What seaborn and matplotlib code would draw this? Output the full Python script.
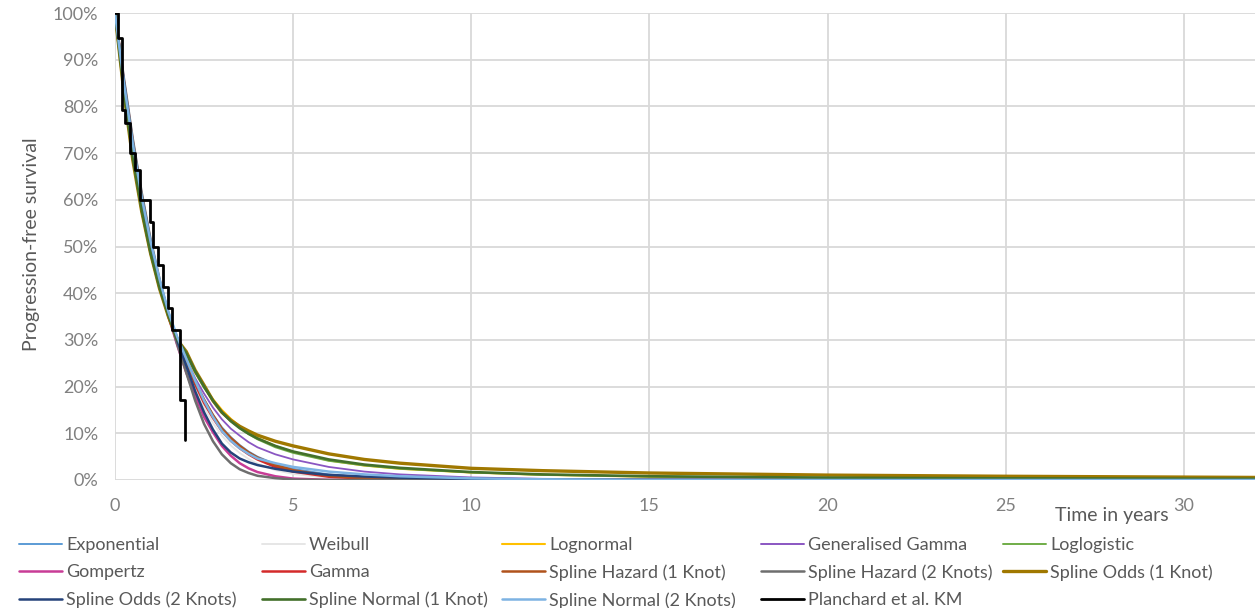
import numpy as np
import pandas as pd
import matplotlib
matplotlib.use("Agg")
import matplotlib.pyplot as plt
from matplotlib.lines import Line2D
import seaborn as sns

# ---------------- data ----------------
time_years = [0, 0.25, 0.5, 0.75, 1, 1.25, 1.5, 1.75, 2, 2.25, 2.5, 2.75, 3, 3.25, 3.5, 3.75, 4, 4.5, 5,
              6, 7, 8, 10, 12, 15, 20, 25, 32]

exponential = [100, 84.5, 71, 60, 50.5, 42.5, 36, 30.5, 25.5, 21, 17.3, 14, 11.3, 9.2, 7.5, 6.1, 5, 3.4, 2.4,
               1.2, 0.6, 0.3, 0.08, 0.02, 0, 0, 0, 0]
weibull = [100, 85.5, 72, 60.5, 51, 42.5, 35.5, 29.8, 24.5, 19.5, 15.5, 12.2, 9.5, 7.4, 5.8, 4.5, 3.5, 2.1, 1.3,
           0.45, 0.15, 0.05, 0, 0, 0, 0, 0, 0]
lognormal = [100, 83.5, 69, 57.5, 48.5, 41, 35, 30, 26.8, 23, 20, 17.3, 15, 13.1, 11.5, 10.2, 9, 7.3, 6,
             4.2, 3.1, 2.4, 1.6, 1.1, 0.7, 0.35, 0.2, 0.1]
gen_gamma = [100, 84.5, 70.5, 59, 49.5, 41.5, 35.5, 30.2, 26, 21.8, 18.5, 15.5, 13, 11, 9.5, 8.1, 7, 5.5, 4.4,
             2.8, 1.8, 1.2, 0.55, 0.25, 0.1, 0.02, 0, 0]
loglogistic = [100, 83.5, 69.5, 58, 48.8, 41.3, 35.3, 30.2, 26.8, 23, 19.7, 17, 14.6, 12.7, 11.1, 9.8, 8.7, 7, 5.8,
               4.1, 3.1, 2.4, 1.6, 1.1, 0.75, 0.45, 0.3, 0.2]
gompertz = [100, 85.5, 72.5, 61, 51, 42.5, 35, 28.8, 23, 18, 13.5, 10.2, 7.3, 5.2, 3.6, 2.5, 1.7, 0.8, 0.3,
            0.03, 0, 0, 0, 0, 0, 0, 0, 0]
gamma = [100, 85, 72, 60.5, 50.5, 42, 35, 29.8, 25, 20.5, 16.5, 13.3, 10.5, 8.4, 6.8, 5.5, 4.4, 2.8, 1.8,
         0.7, 0.3, 0.1, 0.02, 0, 0, 0, 0, 0]
spline_hazard_1 = [100, 84.5, 71.5, 60, 50.5, 42.5, 35.5, 30.2, 25.5, 21, 17.2, 13.9, 11, 9, 7.3, 5.9, 4.8, 3.2, 2.1,
                   0.9, 0.4, 0.2, 0.05, 0, 0, 0, 0, 0]
spline_hazard_2 = [100, 86, 73, 61.5, 51.5, 43, 35.5, 29, 23, 17, 12, 8.3, 5.5, 3.6, 2.3, 1.5, 0.9, 0.4, 0.1,
                   0, 0, 0, 0, 0, 0, 0, 0, 0]
spline_odds_1 = [100, 83, 68.5, 57.5, 48.5, 41, 35, 30, 27.5, 23.5, 20.3, 17, 14.5, 12.8, 11.5, 10.5, 9.6, 8.3, 7.3,
                 5.6, 4.4, 3.6, 2.5, 2.0, 1.5, 1.05, 0.8, 0.55]
spline_odds_2 = [100, 85, 71.5, 60, 50.5, 42.5, 35.5, 29.8, 24.5, 19, 14.5, 10.8, 7.8, 5.9, 4.6, 3.8, 3.2, 2.4, 1.8,
                 1.1, 0.75, 0.5, 0.25, 0.12, 0.05, 0, 0, 0]
spline_normal_1 = [100, 83.3, 69, 57.8, 48.6, 41.2, 35.2, 30.1, 27.2, 23.3, 20, 17, 14.5, 12.6, 11.1, 9.9, 8.9, 7.3, 6.1,
                   4.4, 3.3, 2.6, 1.7, 1.2, 0.8, 0.5, 0.35, 0.25]
spline_normal_2 = [100, 85, 72, 60.5, 51, 43, 36, 30.6, 26, 21.3, 17, 13.5, 10.5, 8.4, 6.8, 5.6, 4.6, 3.6, 2.8,
                   1.8, 1.2, 0.8, 0.35, 0.15, 0.05, 0, 0, 0]

km_time = [0, 0.09, 0.19, 0.28, 0.42, 0.56, 0.70, 0.98, 1.08, 1.22, 1.36, 1.50, 1.59, 1.83, 1.97]
km_surv = [100, 94.6, 79.2, 76.4, 70, 66.4, 60, 55.3, 50, 46, 41.4, 36.8, 32.1, 17.1, 8.6]

series_names = ["Exponential", "Weibull", "Lognormal", "Generalised Gamma", "Loglogistic",
                "Gompertz", "Gamma", "Spline Hazard (1 Knot)", "Spline Hazard (2 Knots)", "Spline Odds (1 Knot)",
                "Spline Odds (2 Knots)", "Spline Normal (1 Knot)", "Spline Normal (2 Knots)"]
series_values = [exponential, weibull, lognormal, gen_gamma, loglogistic,
                 gompertz, gamma, spline_hazard_1, spline_hazard_2, spline_odds_1,
                 spline_odds_2, spline_normal_1, spline_normal_2]
km_name = "Planchard et al. KM"

x_ticks = [0, 5, 10, 15, 20, 25, 30]
y_ticks = [0, 10, 20, 30, 40, 50, 60, 70, 80, 90, 100]

# ---------------- style ----------------
colors = ["#5B9BD5", "#E6E6E6", "#FFC000", "#8A56C2", "#70AD47",
          "#C83C96", "#D42A2A", "#B0521C", "#6E6E6E", "#A07800",
          "#25437A", "#43702B", "#7DB3E3"]
widths = [1.3, 1.3, 1.5, 1.3, 1.3,
          1.8, 1.8, 1.8, 1.8, 2.4,
          1.8, 1.9, 1.8]
km_color = "#000000"
km_width = 2.0
tick_color = "#808080"
text_color = "#595959"
grid_color = "#D9D9D9"

sns.set_theme(style="white")
plt.rcParams["font.family"] = ["Lato", "DejaVu Sans"]

fig = plt.figure(figsize=(12.58, 6.08), dpi=100)
ax = fig.add_axes([115 / 1258, 1 - 480 / 608, (1255 - 115) / 1258, (480 - 13) / 608])

for name, vals, c, w in zip(series_names, series_values, colors, widths):
    df = pd.DataFrame({"t": time_years, "s": vals})
    sns.lineplot(data=df, x="t", y="s", color=c, linewidth=w, ax=ax, legend=False)

df_km = pd.DataFrame({"t": km_time, "s": km_surv})
sns.lineplot(data=df_km, x="t", y="s", color=km_color, linewidth=km_width, ax=ax,
             legend=False, drawstyle="steps-post")

ax.set_xlim(0, 32)
ax.set_ylim(0, 100)
ax.set_xticks(x_ticks)
ax.set_yticks(y_ticks)
ax.set_yticklabels([f"{v}%" for v in y_ticks])
ax.grid(True, color=grid_color, linewidth=1.3)
ax.set_axisbelow(True)
for sp in ax.spines.values():
    sp.set_visible(False)
ax.tick_params(axis="both", length=0, labelsize=13, labelcolor=tick_color)
ax.tick_params(axis="x", pad=13)
ax.tick_params(axis="y", pad=12)
ax.set_xlabel("")
ax.set_ylabel("")
fig.text(32 / 1258, 1 - 244 / 608, "Progression-free survival", fontsize=14, color=text_color,
         ha="center", va="center", rotation=90)
fig.text(1112 / 1258, 1 - 516 / 608, "Time in years", fontsize=14, color=text_color,
         ha="center", va="center")

# ---------------- legend (Excel style fixed columns) ----------------
all_names = series_names + [km_name]
all_colors = colors + [km_color]
all_widths = widths + [km_width]
col_x = [19, 262, 502, 761, 1003]
for j, x0 in enumerate(col_x):
    idx = [i for i in (j, j + 5, j + 10) if i < len(all_names)]
    handles = [Line2D([0], [0], color=all_colors[i], linewidth=max(all_widths[i], 1.4)) for i in idx]
    labels = [all_names[i] for i in idx]
    fig.legend(handles, labels, loc="upper left", bbox_to_anchor=(x0 / 1258, 1 - 537 / 608),
               frameon=False, fontsize=13, handlelength=2.4, handletextpad=0.2,
               labelspacing=0.62, borderpad=0, borderaxespad=0, labelcolor=text_color)

fig.savefig("out.png", dpi=100)
